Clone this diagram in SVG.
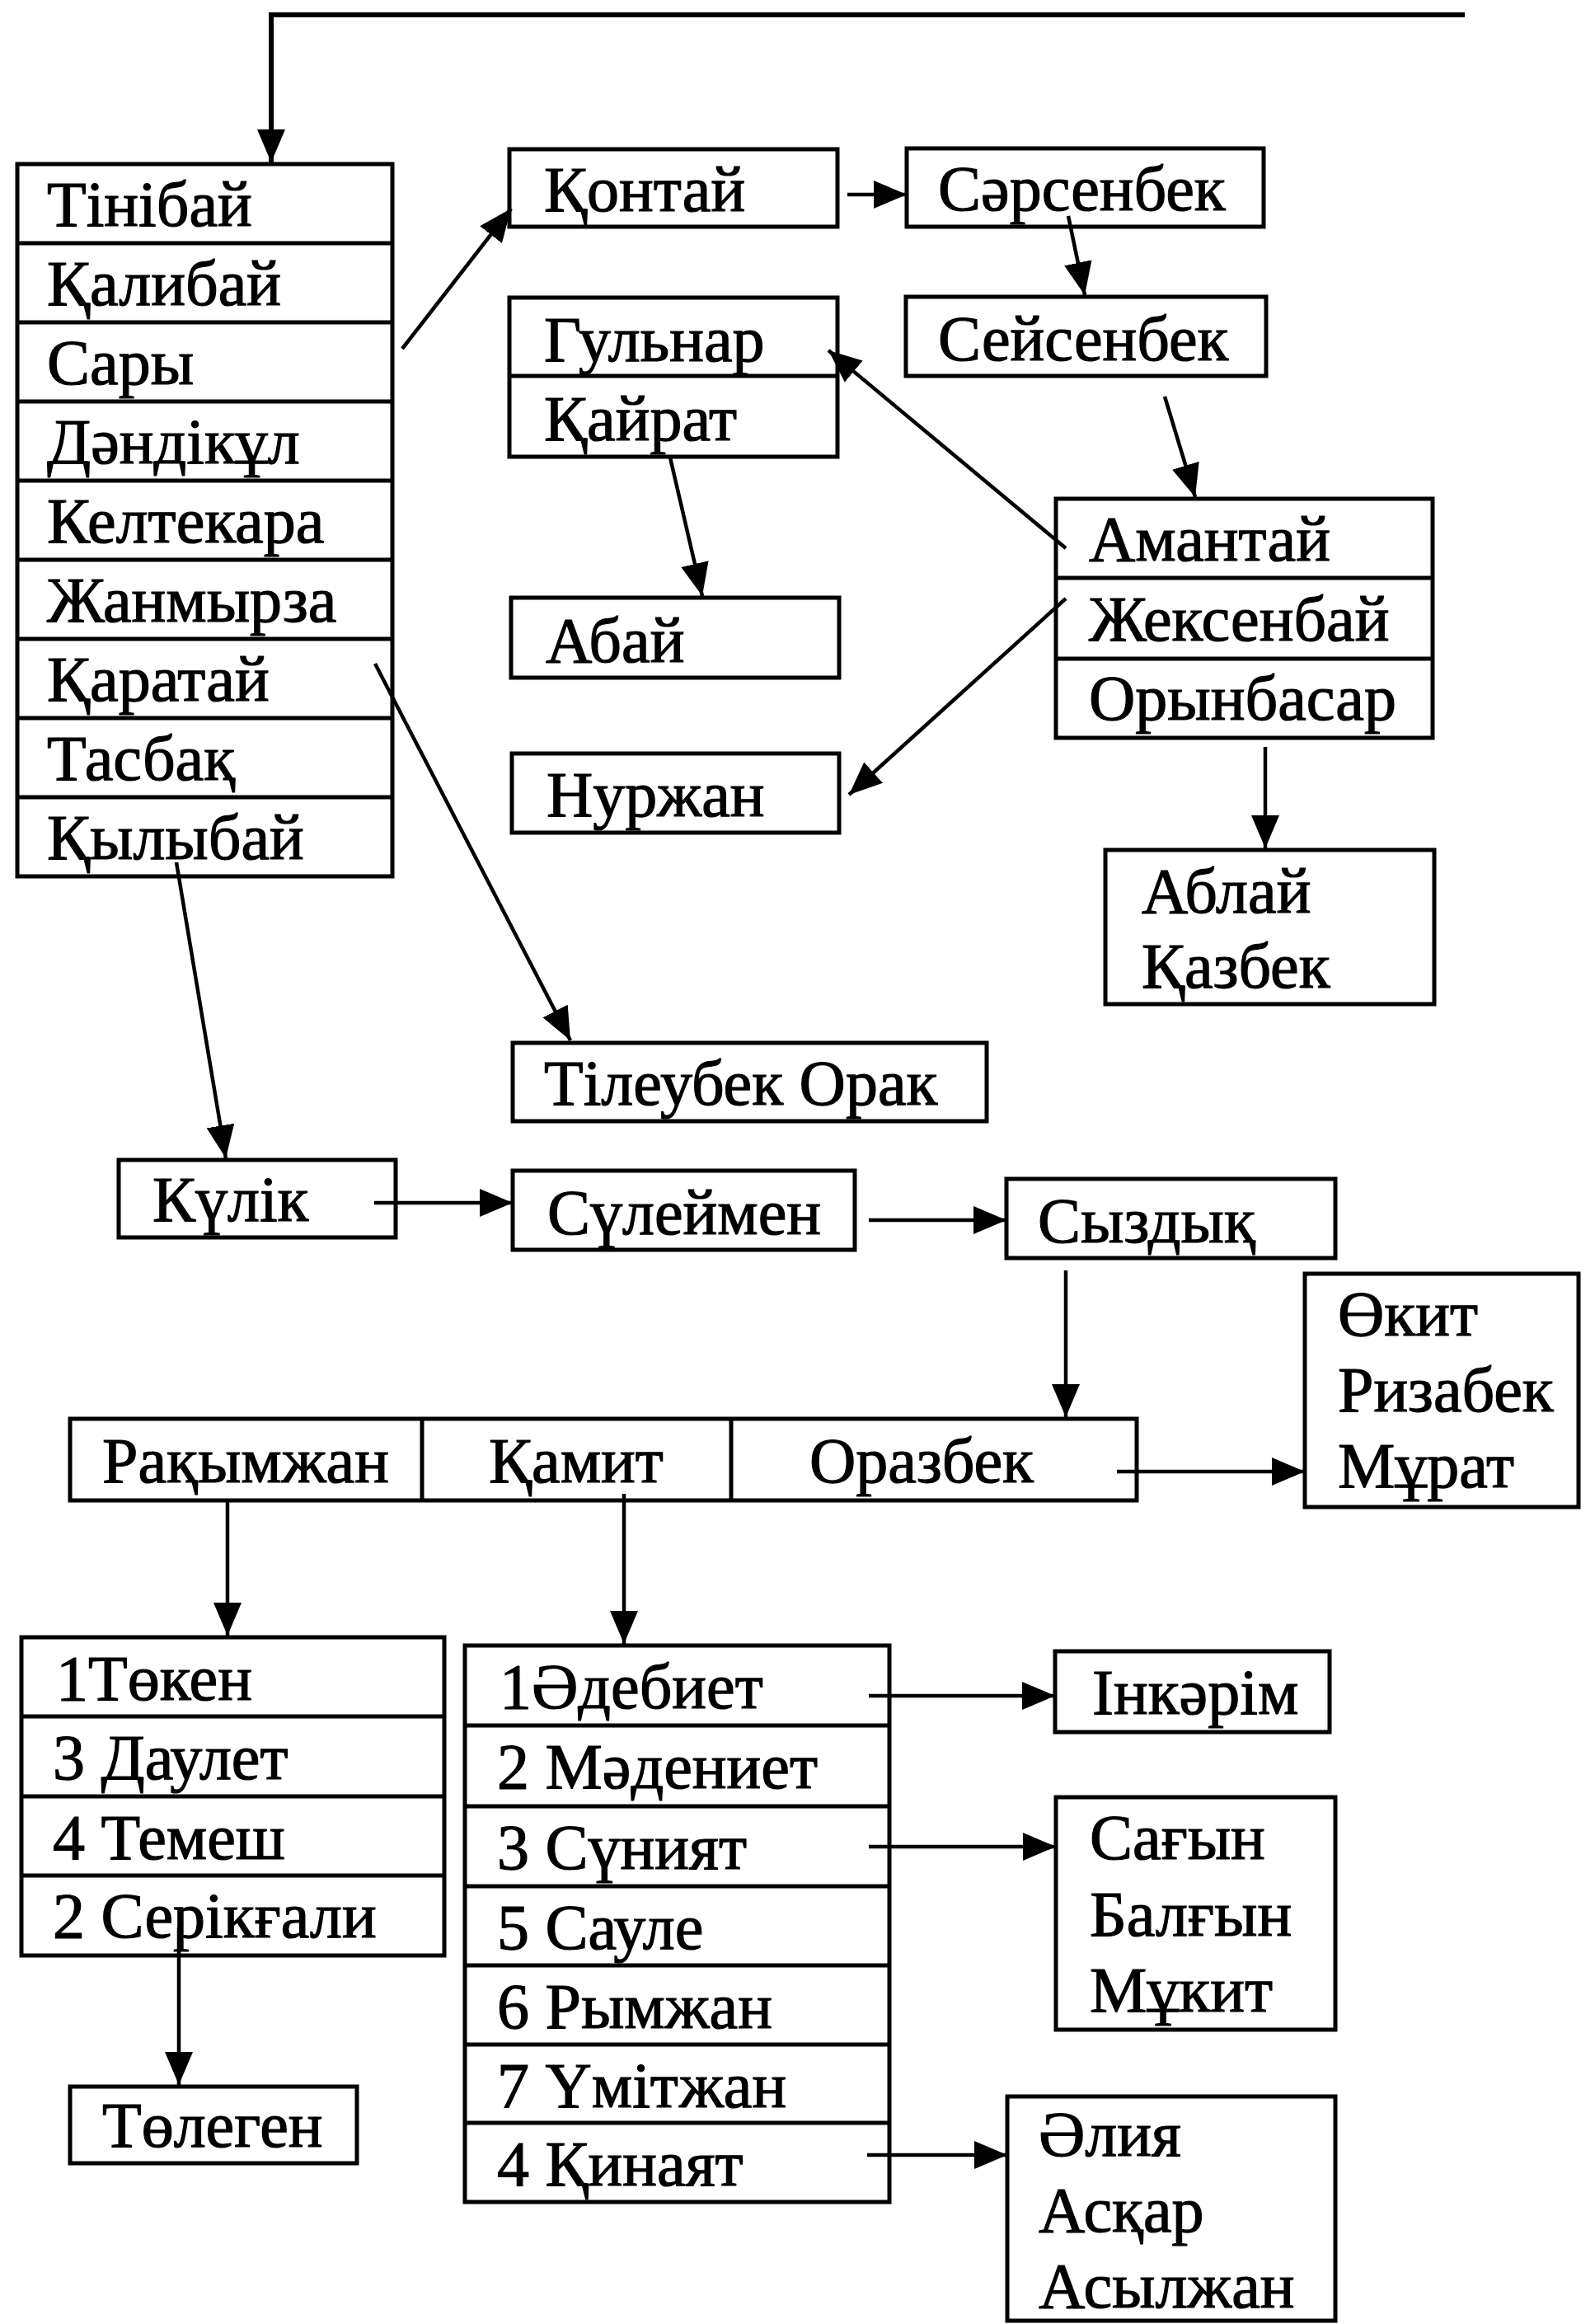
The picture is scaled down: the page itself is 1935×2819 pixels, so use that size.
<svg xmlns="http://www.w3.org/2000/svg" width="1935" height="2819" viewBox="0 0 1935 2819">
<style>
.box{fill:#fff;stroke:#000;stroke-width:5}
.div{stroke:#000;stroke-width:5}
.t{font-family:"Liberation Serif","Times New Roman",serif;font-size:78px;fill:#000;stroke:#000;stroke-width:1.2}
.c{fill:none;stroke:#000;stroke-width:4.5}
</style>
<defs>
<marker id="ah" markerUnits="userSpaceOnUse" markerWidth="42" markerHeight="36" refX="40" refY="17" orient="auto" viewBox="0 0 42 36">
<path d="M0,0 L40,17 L0,34 Z" fill="#000"/>
</marker>
</defs>
<rect width="1935" height="2819" fill="#fff"/>

<g id="n-left-list">
<rect class="box" x="21" y="199" width="455" height="864"/>
<line class="div" x1="21" y1="295" x2="476" y2="295"/>
<line class="div" x1="21" y1="391" x2="476" y2="391"/>
<line class="div" x1="21" y1="487" x2="476" y2="487"/>
<line class="div" x1="21" y1="583" x2="476" y2="583"/>
<line class="div" x1="21" y1="679" x2="476" y2="679"/>
<line class="div" x1="21" y1="775" x2="476" y2="775"/>
<line class="div" x1="21" y1="871" x2="476" y2="871"/>
<line class="div" x1="21" y1="967" x2="476" y2="967"/>
<text class="t" x="57" y="274">Тінібай</text>
<text class="t" x="57" y="370">Қалибай</text>
<text class="t" x="57" y="466">Сары</text>
<text class="t" x="57" y="562">Дәндікұл</text>
<text class="t" x="57" y="658">Келтекара</text>
<text class="t" x="57" y="754">Жанмырза</text>
<text class="t" x="57" y="850">Қаратай</text>
<text class="t" x="57" y="946">Тасбақ</text>
<text class="t" x="57" y="1042">Қылыбай</text>
</g>

<g id="n-kontai">
<rect class="box" x="618" y="181" width="398" height="94"/>
<text class="t" x="660" y="256">Қонтай</text>
</g>
<g id="n-sarsenbek">
<rect class="box" x="1100" y="180" width="433" height="95"/>
<text class="t" x="1138" y="255">Сәрсенбек</text>
</g>
<g id="n-gulnar">
<rect class="box" x="618" y="361" width="398" height="193"/>
<line class="div" x1="618" y1="456" x2="1016" y2="456"/>
<text class="t" x="660" y="438">Гульнар</text>
<text class="t" x="660" y="534">Қайрат</text>
</g>
<g id="n-seisenbek">
<rect class="box" x="1099" y="360" width="437" height="96"/>
<text class="t" x="1138" y="437">Сейсенбек</text>
</g>
<g id="n-amantai">
<rect class="box" x="1281" y="605" width="457" height="290"/>
<line class="div" x1="1281" y1="701" x2="1738" y2="701"/>
<line class="div" x1="1281" y1="799" x2="1738" y2="799"/>
<text class="t" x="1321" y="680">Амантай</text>
<text class="t" x="1321" y="777">Жексенбай</text>
<text class="t" x="1321" y="873">Орынбасар</text>
</g>
<g id="n-abai">
<rect class="box" x="620" y="725" width="398" height="97"/>
<text class="t" x="662" y="803">Абай</text>
</g>
<g id="n-nurzhan">
<rect class="box" x="621" y="914" width="397" height="96"/>
<text class="t" x="663" y="990">Нуржан</text>
</g>
<g id="n-ablai">
<rect class="box" x="1341" y="1031" width="399" height="187"/>
<text class="t" x="1385" y="1107">Аблай</text>
<text class="t" x="1385" y="1198">Қазбек</text>
</g>
<g id="n-tileubek">
<rect class="box" x="622" y="1265" width="575" height="95"/>
<text class="t" x="660" y="1340">Тілеубек Орак</text>
</g>
<g id="n-kulik">
<rect class="box" x="144" y="1407" width="336" height="94"/>
<text class="t" x="185" y="1481">Күлік</text>
</g>
<g id="n-suleimen">
<rect class="box" x="622" y="1420" width="415" height="96"/>
<text class="t" x="664" y="1497">Сүлеймен</text>
</g>
<g id="n-syzdyk">
<rect class="box" x="1221" y="1430" width="399" height="96"/>
<text class="t" x="1259" y="1507">Сыздық</text>
</g>
<g id="n-brothers">
<rect class="box" x="85" y="1721" width="1294" height="99"/>
<line class="div" x1="512" y1="1721" x2="512" y2="1820"/>
<line class="div" x1="887" y1="1721" x2="887" y2="1820"/>
<text class="t" x="124" y="1798">Рақымжан</text>
<text class="t" x="593" y="1798">Қамит</text>
<text class="t" x="982" y="1798">Оразбек</text>
</g>
<g id="n-okit">
<rect class="box" x="1583" y="1545" width="332" height="283"/>
<text class="t" x="1623" y="1620">Өкит</text>
<text class="t" x="1623" y="1712">Ризабек</text>
<text class="t" x="1623" y="1804">Мұрат</text>
</g>
<g id="n-token-list">
<rect class="box" x="26" y="1986" width="513" height="386"/>
<line class="div" x1="26" y1="2082" x2="539" y2="2082"/>
<line class="div" x1="26" y1="2179" x2="539" y2="2179"/>
<line class="div" x1="26" y1="2275" x2="539" y2="2275"/>
<text class="t" x="68" y="2062">1Төкен</text>
<text class="t" x="64" y="2158">3 Даулет</text>
<text class="t" x="64" y="2255">4 Темеш</text>
<text class="t" x="64" y="2350">2 Серікғали</text>
</g>
<g id="n-tolegen">
<rect class="box" x="85" y="2531" width="348" height="93"/>
<text class="t" x="124" y="2604">Төлеген</text>
</g>
<g id="n-adebiet-list">
<rect class="box" x="564" y="1996" width="515" height="675"/>
<line class="div" x1="564" y1="2093" x2="1079" y2="2093"/>
<line class="div" x1="564" y1="2191" x2="1079" y2="2191"/>
<line class="div" x1="564" y1="2288" x2="1079" y2="2288"/>
<line class="div" x1="564" y1="2384" x2="1079" y2="2384"/>
<line class="div" x1="564" y1="2480" x2="1079" y2="2480"/>
<line class="div" x1="564" y1="2575" x2="1079" y2="2575"/>
<text class="t" x="606" y="2072">1Әдебиет</text>
<text class="t" x="603" y="2169">2 Мәдениет</text>
<text class="t" x="603" y="2267">3 Сүният</text>
<text class="t" x="603" y="2364">5 Сауле</text>
<text class="t" x="603" y="2460">6 Рымжан</text>
<text class="t" x="603" y="2556">7 Үмітжан</text>
<text class="t" x="603" y="2651">4 Қинаят</text>
</g>
<g id="n-inkarim">
<rect class="box" x="1280" y="2003" width="333" height="98"/>
<text class="t" x="1325" y="2079">Інкәрім</text>
</g>
<g id="n-sagyn">
<rect class="box" x="1281" y="2180" width="339" height="282"/>
<text class="t" x="1322" y="2255">Сағын</text>
<text class="t" x="1322" y="2348">Балғын</text>
<text class="t" x="1322" y="2440">Мұкит</text>
</g>
<g id="n-aliya">
<rect class="box" x="1222" y="2543" width="398" height="272"/>
<text class="t" x="1260" y="2615">Әлия</text>
<text class="t" x="1260" y="2707">Асқар</text>
<text class="t" x="1260" y="2799">Асылжан</text>
</g>

<g id="connectors">
<polyline class="c" points="1777,18 329,18 329,197" marker-end="url(#ah)" style="stroke-width:6"/>
<line class="c" x1="488" y1="423" x2="620" y2="253" marker-end="url(#ah)"/>
<line class="c" x1="1028" y1="236" x2="1100" y2="236" marker-end="url(#ah)"/>
<line class="c" x1="1296" y1="262" x2="1316" y2="358" marker-end="url(#ah)"/>
<line class="c" x1="1413" y1="481" x2="1450" y2="603" marker-end="url(#ah)"/>
<line class="c" x1="1293" y1="665" x2="1005" y2="425" marker-end="url(#ah)"/>
<line class="c" x1="813" y1="555" x2="852" y2="723" marker-end="url(#ah)"/>
<line class="c" x1="1293" y1="726" x2="1030" y2="964" marker-end="url(#ah)"/>
<line class="c" x1="1535" y1="906" x2="1535" y2="1029" marker-end="url(#ah)"/>
<line class="c" x1="455" y1="805" x2="692" y2="1262" marker-end="url(#ah)"/>
<line class="c" x1="214" y1="1046" x2="274" y2="1405" marker-end="url(#ah)"/>
<line class="c" x1="454" y1="1459" x2="622" y2="1459" marker-end="url(#ah)"/>
<line class="c" x1="1054" y1="1480" x2="1221" y2="1480" marker-end="url(#ah)"/>
<line class="c" x1="1293" y1="1541" x2="1293" y2="1719" marker-end="url(#ah)"/>
<line class="c" x1="1355" y1="1785" x2="1583" y2="1785" marker-end="url(#ah)"/>
<line class="c" x1="276" y1="1820" x2="276" y2="1984" marker-end="url(#ah)"/>
<line class="c" x1="757" y1="1812" x2="757" y2="1994" marker-end="url(#ah)"/>
<line class="c" x1="217" y1="2338" x2="217" y2="2529" marker-end="url(#ah)"/>
<line class="c" x1="1054" y1="2057" x2="1280" y2="2057" marker-end="url(#ah)"/>
<line class="c" x1="1054" y1="2240" x2="1281" y2="2240" marker-end="url(#ah)"/>
<line class="c" x1="1052" y1="2614" x2="1222" y2="2614" marker-end="url(#ah)"/>
</g>
</svg>
